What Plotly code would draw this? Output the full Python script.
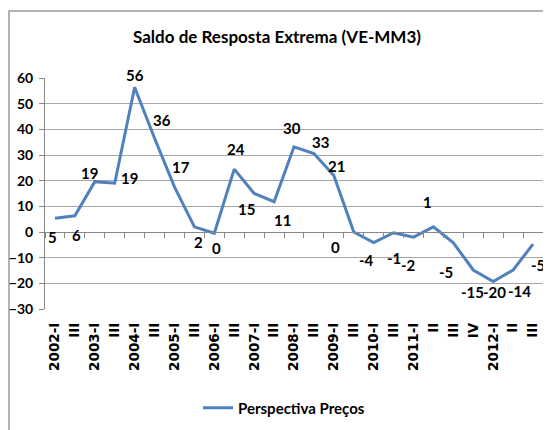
import plotly.graph_objects as go

# ---- data ----
tick_labels = ["2002-I", "III", "2003-I", "III", "2004-I", "III", "2005-I", "III",
               "2006-I", "III", "2007-I", "III", "2008-I", "III", "2009-I", "III",
               "2010-I", "III", "2011-I", "II", "III", "IV", "2012-I", "II", "III"]
values = [5.4, 6.3, 19.6, 19, 56.4, 36.5, 17.6, 2, -0.5, 24.5, 15, 11.8, 33.2, 30.6,
          22, 0, -4.1, -0.3, -2, 2, -4.2, -14.8, -19.3, -14.8, -4.7]
label_text = [5, 6, 19, 19, 56, 36, 17, 2, 0, 24, 15, 11, 30, 33, 21, 0, -4, -1, -2, 1,
              -5, -15, -20, -14, -5]
series_name = "Perspectiva Preços"
title_text = "Saldo de Resposta Extrema (VE-MM3)"

# label offsets in pixels (style only)
label_dx = [-2, 2, -5, 15, 0, 7, 7, 4, 2, 2, -8, 8, -2, 7, 3, -18, -7, 0, -5, -6, -7, -1, 1, 6, 5]
label_dy = [-19, -19, 9, 5, 12, 18, 20, -15, -15, 20, -15, -18, 19, 11, 10, -15, -17, -25, -28, 25, -29, -22, -10, -21, -21]

FONT = "Lato, Liberation Sans, Arial, sans-serif"
xs = list(range(len(tick_labels)))
LINE_COLOR = "#4f81bd"

# the page places the figure 8px in from the window's top-left corner (body margin)
OFF = 8
W, H = 551, 430
PL, PR, PT, PB = 45, 543, 78, 309   # plot area in window pixels
PW, PH = PR - PL, PB - PT

fig = go.Figure()
fig.add_trace(go.Scatter(x=xs, y=values, mode="lines", name=series_name,
                         line=dict(color=LINE_COLOR, width=3), xaxis="x", yaxis="y"))
# invisible copy so that the zero-crossing category axis is drawn
fig.add_trace(go.Scatter(x=xs, y=values, mode="lines", showlegend=False, hoverinfo="skip",
                         line=dict(color="rgba(0,0,0,0)", width=0), xaxis="x2", yaxis="y"))

for i, (v, t) in enumerate(zip(values, label_text)):
    fig.add_annotation(x=xs[i], y=v, xref="x", yref="y", text=str(t), showarrow=False,
                       xshift=label_dx[i], yshift=label_dy[i],
                       font=dict(family=FONT, size=15, color="#000000", weight="bold"))

ymin, ymax = -30, 60
fig.update_layout(
    width=W, height=H,
    margin=dict(l=PL - OFF, r=W - (PR - OFF), t=PT - OFF, b=H - (PB - OFF), autoexpand=False),
    paper_bgcolor="white", plot_bgcolor="white",
    title=dict(text=title_text, x=(277 - OFF) / W, xanchor="center", y=1 - (37 - OFF) / H,
               yanchor="middle",
               font=dict(family=FONT, size=17, color="#000000", weight="bold")),
    xaxis=dict(range=[-0.5, len(xs) - 0.5], tickmode="array", tickvals=xs, ticktext=tick_labels,
               tickangle=-90, showgrid=False, zeroline=False, showline=False, ticks="",
               ticklabelstandoff=10, automargin=False,
               tickfont=dict(family="DejaVu Sans, sans-serif", size=13.5, color="#000000", weight="bold")),
    xaxis2=dict(overlaying="x", anchor="free", position=(0 - ymin) / (ymax - ymin),
                range=[-0.5, len(xs) - 0.5], tick0=-0.5, dtick=1, showticklabels=False,
                showgrid=False, zeroline=False, showline=True, linecolor="#888888", linewidth=1,
                ticks="outside", ticklen=5, tickcolor="#888888", automargin=False),
    yaxis=dict(range=[ymin, ymax], dtick=10, showgrid=True, gridcolor="#a6a6a6", gridwidth=1,
               zeroline=False, showline=True, linecolor="#888888", linewidth=1,
               ticks="outside", ticklen=5, tickcolor="#888888", ticklabelstandoff=3,
               automargin=False,
               tickfont=dict(family=FONT, size=14, color="#000000", weight="bold")),
    legend=dict(orientation="h", x=(284 - PL) / PW, xanchor="center", y=(PB - 408) / PH,
                yanchor="middle",
                font=dict(family=FONT, size=15, color="#000000", weight="bold"),
                itemwidth=30, bgcolor="rgba(0,0,0,0)"),
    showlegend=True,
)

# outer chart border (decoration)
fig.add_shape(type="rect", xref="paper", yref="paper",
              x0=(OFF + 1 - PL) / PW, x1=(W + 20 - PL) / PW,
              y0=(PB - (H + 20)) / PH, y1=(PB - 11) / PH,
              line=dict(color="#999999", width=1.5), fillcolor="rgba(0,0,0,0)", layer="below")

fig.write_html("out.html")
